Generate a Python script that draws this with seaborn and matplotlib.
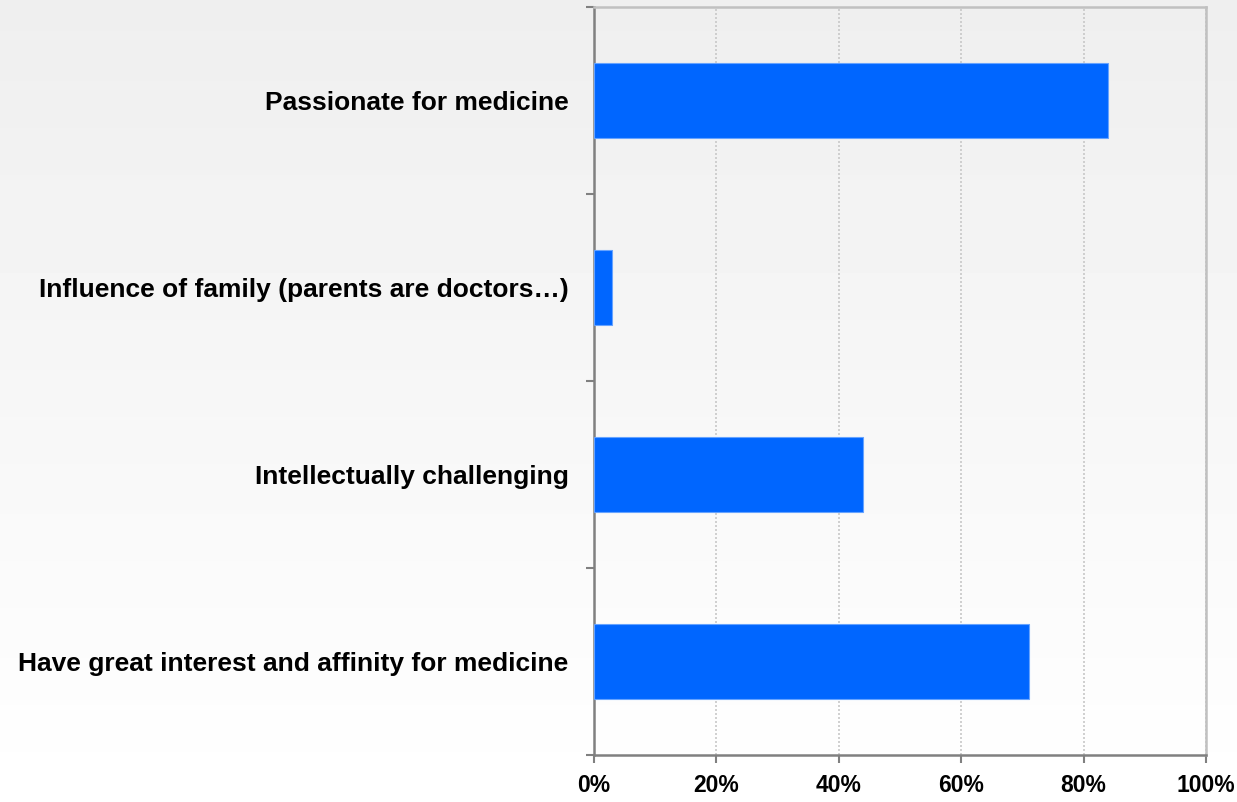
import numpy as np
import pandas as pd
import matplotlib
matplotlib.use("Agg")
import matplotlib.pyplot as plt
import seaborn as sns

# data
reasons = ["Passionate for medicine",
           "Influence of family (parents are doctors\u2026)",
           "Intellectually challenging",
           "Have great interest and affinity for medicine"]
shares = [84, 3, 44, 71]
x_ticks = [0, 20, 40, 60, 80, 100]
x_tick_labels = ["0%", "20%", "40%", "60%", "80%", "100%"]

df = pd.DataFrame({"reason": reasons, "share": shares})

sns.set_style("white")
plt.rcParams["font.family"] = ["Liberation Sans", "DejaVu Sans"]
plt.rcParams["font.weight"] = "bold"

fig = plt.figure(figsize=(12.37, 8.02), dpi=100)

# background gradient, light grey at top fading to white
bg = fig.add_axes([0, 0, 1, 1], zorder=-10)
grad = np.linspace(0.935, 1.0, 256).reshape(-1, 1)
bg.imshow(grad, aspect="auto", cmap="gray", vmin=0, vmax=1, extent=[0, 1, 0, 1], origin="upper")
bg.set_axis_off()

ax = fig.add_axes([0.4798, 0.0586, 0.4953, 0.9327])
ax.set_facecolor("none")
sns.barplot(data=df, x="share", y="reason", color="#0066FF", saturation=1,
            width=0.4, edgecolor="#66a3ff", linewidth=0.8, ax=ax, zorder=3)

ax.set_xlim(0, 100)
ax.set_ylim(3.5, -0.5)
ax.set_xticks(x_ticks)
ax.set_xticklabels(x_tick_labels, fontsize=16.5, fontweight="bold", color="black")
ax.set_yticks(range(len(reasons)))
ax.set_yticklabels(reasons, fontsize=19, fontweight="bold", color="black")
ax.set_yticks(np.arange(-0.5, len(reasons), 1), minor=True)
ax.tick_params(axis="y", which="major", length=0, pad=18)
ax.tick_params(axis="y", which="minor", length=6, width=1.5, color="#808080", direction="out", left=True)
ax.tick_params(axis="x", which="major", length=6, width=1.5, color="#808080", direction="out", pad=8, bottom=True)
ax.set_xlabel("")
ax.set_ylabel("")

ax.xaxis.grid(True, linestyle=(0, (1.2, 1.2)), color="#c8c8c8", linewidth=1.2, zorder=0)
ax.set_axisbelow(True)

for side in ["left", "bottom"]:
    ax.spines[side].set_color("#808080")
    ax.spines[side].set_linewidth(1.8)
for side in ["top", "right"]:
    ax.spines[side].set_visible(True)
    ax.spines[side].set_color("#c0c0c0")
    ax.spines[side].set_linewidth(1.8)

fig.savefig("out.png", dpi=100)
